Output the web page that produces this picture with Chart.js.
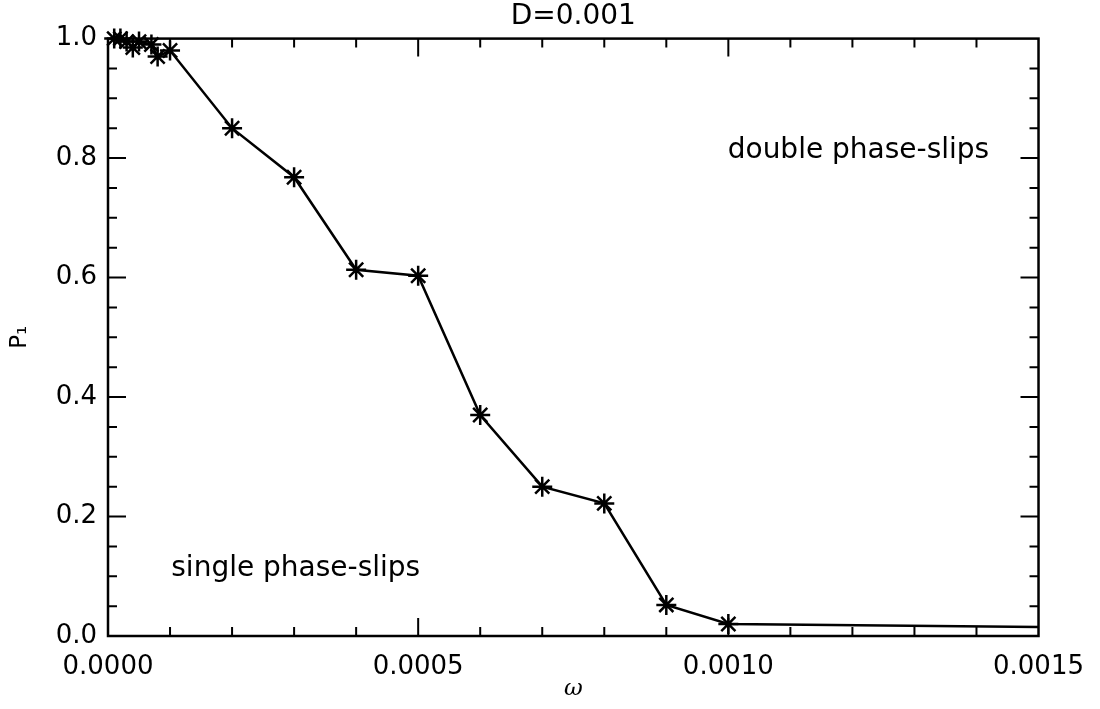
<!DOCTYPE html>
<html>
<head>
<meta charset="utf-8">
<script src="https://cdn.jsdelivr.net/npm/chart.js@4/dist/chart.umd.min.js"></script>
<style>
  html, body { margin: 0; padding: 0; background: #fff; }
  #wrap { width: 1100px; height: 709px; }
</style>
</head>
<body>
<div id="wrap"><canvas id="chart_p1"></canvas></div>
<script>
// omega values and P1
var omega = [0.00001, 0.00002, 0.00003, 0.00004, 0.00005, 0.00007, 0.00008, 0.0001,
             0.0002, 0.0003, 0.0004, 0.0005, 0.0006, 0.0007, 0.0008, 0.0009, 0.0010, 0.0015];
var p1 = [1.0, 1.0, 0.995, 0.985, 0.995, 0.99, 0.97, 0.98,
          0.85, 0.768, 0.613, 0.603, 0.37, 0.25, 0.222, 0.052, 0.02, 0.015];
// the last point only carries the line to the frame, no asterisk there
var markerless = [17];

var xTicks = [0, 0.0005, 0.0010, 0.0015];
var yTicks = [0.0, 0.2, 0.4, 0.6, 0.8, 1.0];

var noteText = ['double phase-slips', 'single phase-slips'];
var noteX = [0.000999, 0.000102];
var noteY = [0.812, 0.112];

var points = omega.map(function(w, i) { return {x: w, y: p1[i]}; });

// frame, inward ticks on all four sides, and the two text notes
var idlFrame = {
    id: 'idlFrame',
    afterDraw: function(chart) {
        var ctx = chart.ctx;
        var a = chart.chartArea;
        var xs = chart.scales.x, ys = chart.scales.y;
        ctx.save();
        ctx.strokeStyle = '#000';
        ctx.lineWidth = 2.5;
        ctx.strokeRect(a.left, a.top, a.right - a.left, a.bottom - a.top);
        ctx.lineWidth = 2;
        ctx.beginPath();
        for (var i = 1; i < 15; i++) {
            var px = xs.getPixelForValue(i * 0.0001);
            var len = (i % 5 === 0) ? 18 : 9;
            ctx.moveTo(px, a.bottom); ctx.lineTo(px, a.bottom - len);
            ctx.moveTo(px, a.top); ctx.lineTo(px, a.top + len);
        }
        for (var j = 1; j < 20; j++) {
            var py = ys.getPixelForValue(j * 0.05);
            var l2 = (j % 4 === 0) ? 18 : 9;
            ctx.moveTo(a.left, py); ctx.lineTo(a.left + l2, py);
            ctx.moveTo(a.right, py); ctx.lineTo(a.right - l2, py);
        }
        ctx.stroke();
        ctx.fillStyle = '#000';
        ctx.font = '28px "DejaVu Sans"';
        ctx.textAlign = 'left';
        ctx.textBaseline = 'middle';
        for (var k = 0; k < noteText.length; k++) {
            ctx.fillText(noteText[k], xs.getPixelForValue(noteX[k]), ys.getPixelForValue(noteY[k]));
        }
        ctx.restore();
    }
};

var chart_p1 = new Chart(document.getElementById('chart_p1'), {
    type: 'line',
    data: {
        datasets: [{
            label: 'P1',
            data: points,
            borderColor: '#000',
            borderWidth: 2.5,
            pointStyle: 'star',
            pointRadius: function(c) { return markerless.indexOf(c.dataIndex) >= 0 ? 0 : 10; },
            pointBorderColor: '#000',
            pointBorderWidth: 2.5,
            pointBackgroundColor: '#000',
            tension: 0,
            clip: false
        }]
    },
    options: {
        animation: false,
        responsive: true,
        maintainAspectRatio: false,
        layout: { padding: { left: 0, right: 55, top: 0, bottom: 0 } },
        plugins: {
            legend: { display: false },
            tooltip: { enabled: false },
            title: {
                display: true,
                text: 'D=0.001',
                fullSize: false,
                color: '#000',
                font: { family: 'DejaVu Sans', size: 28, weight: 'normal' },
                padding: { top: 0, bottom: 5 }
            }
        },
        scales: {
            x: {
                type: 'linear',
                min: 0,
                max: 0.0015,
                afterFit: function(s) { s.height = 73; },
                afterBuildTicks: function(s) { s.ticks = xTicks.map(function(v) { return {value: v}; }); },
                grid: { display: false, drawTicks: false },
                border: { display: false },
                ticks: {
                    color: '#000',
                    padding: 16,
                    maxRotation: 0,
                    font: { family: 'DejaVu Sans', size: 26 },
                    callback: function(v) { return v.toFixed(4); }
                },
                title: {
                    display: true,
                    text: 'ω',
                    color: '#000',
                    font: { family: 'DejaVu Serif', size: 23, style: 'italic' },
                    padding: { top: 0, bottom: 6 }
                }
            },
            y: {
                type: 'linear',
                min: 0,
                max: 1,
                afterFit: function(s) { s.width = 108; },
                afterBuildTicks: function(s) { s.ticks = yTicks.map(function(v) { return {value: v}; }); },
                grid: { display: false, drawTicks: false },
                border: { display: false },
                ticks: {
                    color: '#000',
                    padding: 11,
                    font: { family: 'DejaVu Sans', size: 26 },
                    callback: function(v) { return v.toFixed(1); }
                },
                title: {
                    display: true,
                    text: 'P₁',
                    color: '#000',
                    font: { family: 'DejaVu Sans', size: 23 },
                    padding: { top: 6, bottom: 0 }
                }
            }
        }
    },
    plugins: [{
        id: 'whiteBg',
        beforeDraw: function(chart) {
            var ctx = chart.canvas.getContext('2d');
            ctx.save();
            ctx.globalCompositeOperation = 'destination-over';
            ctx.fillStyle = 'white';
            ctx.fillRect(0, 0, chart.canvas.width, chart.canvas.height);
            ctx.restore();
        }
    }, idlFrame]
});
</script>
</body>
</html>
